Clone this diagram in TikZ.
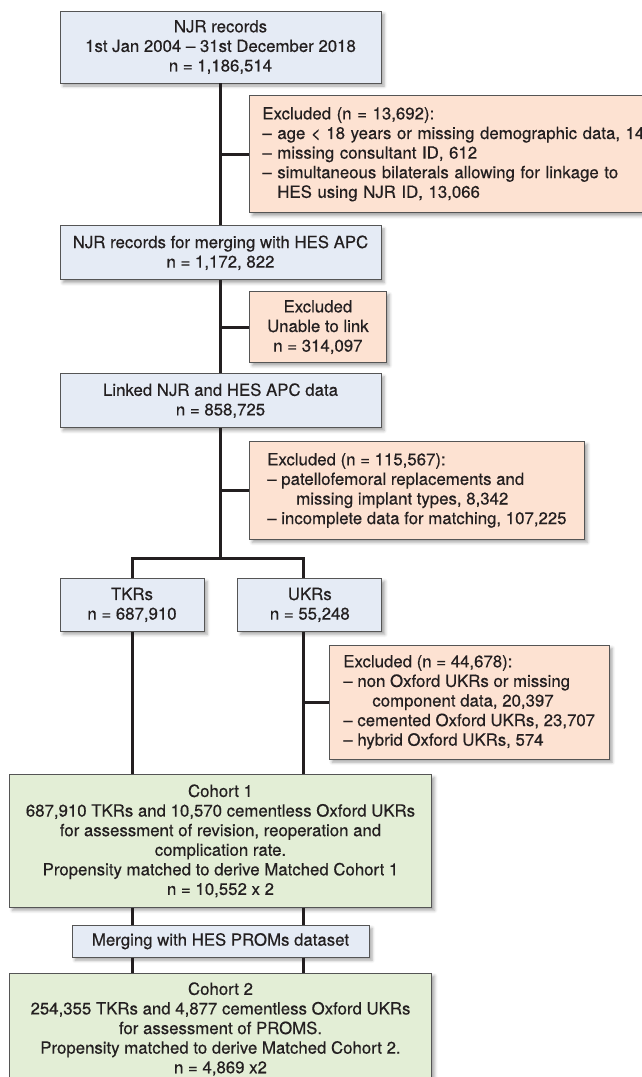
\documentclass[tikz,border=0pt]{standalone}
\usepackage{fontspec}
\setmainfont{TeX Gyre Heros}[FakeBold=0.45]
\usepackage{tikz}
\usetikzlibrary{positioning,shadows.blur}
\definecolor{boxblue}{HTML}{E5EBF5}
\definecolor{boxorange}{HTML}{FDE2D2}
\definecolor{boxgreen}{HTML}{E3EED6}
\definecolor{edgegray}{HTML}{555555}
\definecolor{linkgray}{HTML}{231F20}
\definecolor{textgray}{HTML}{231F20}

\begin{document}
\begin{tikzpicture}[x=1pt, y=1pt,
        flowbox/.style={draw=edgegray, line width=0.8pt, inner sep=0pt, align=center, text=textgray,
            font=\fontsize{16.8}{19.6}\selectfont,
            blur shadow={shadow xshift=3pt, shadow yshift=-3pt, shadow blur radius=3pt, shadow opacity=35}},
        record/.style={flowbox, fill=boxblue},
        excluded/.style={flowbox, fill=boxorange},
        excludedlist/.style={excluded, align=left},
        cohort/.style={flowbox, fill=boxgreen},
        link/.style={draw=linkgray, line width=3pt}
    ]
        \useasboundingbox (0,0) rectangle (641,-1077);

        % Nodes
        \node[record, minimum width=321pt, minimum height=72pt] (njr) at (220.5,-47)
            {NJR records\\1st Jan 2004 – 31st December 2018\\n = 1,186,514};
        \node[excludedlist, inner xsep=13pt, text width=400pt, minimum height=117pt,
            below right=12pt and 28.5pt of njr.south] (exclone)
            {Excluded (n = 13,692):\\– age < 18 years or missing demographic data, 14\\– missing consultant ID, 612\\– simultaneous bilaterals allowing for linkage to\\\phantom{– }HES using NJR ID, 13,066};
        \node[record, minimum width=321pt, minimum height=54pt, below=142pt of njr] (formerge)
            {NJR records for merging with HES APC\\n = 1,172, 822};
        \node[excluded, minimum width=137pt, minimum height=71pt,
            below right=11pt and 28.5pt of formerge.south] (excltwo)
            {Excluded\\Unable to link\\n = 314,097};
        \node[record, minimum width=321pt, minimum height=54pt, below=93pt of formerge] (linked)
            {Linked NJR and HES APC data\\n = 858,725};
        \node[excludedlist, minimum width=335pt, minimum height=98pt,
            below right=13pt and 28.5pt of linked.south] (exclthree)
            {Excluded (n = 115,567):\\– patellofemoral replacements and\\\phantom{– }\hspace{15pt}missing implant types, 8,342\\– incomplete data for matching, 107,225};
        \node[record, minimum width=144pt, minimum height=53pt,
            below right=150pt and 0pt of linked.south west] (tkr)
            {TKRs\\n = 687,910};
        \node[record, minimum width=144pt, minimum height=53pt, right=33pt of tkr] (ukr)
            {UKRs\\n = 55,248};
        \node[excludedlist, minimum width=280pt, minimum height=114pt,
            below right=13pt and 19pt of ukr.south] (exclfour)
            {Excluded (n = 44,678):\\– non Oxford UKRs or missing\\\phantom{– }\hspace{15pt}component data, 20,397\\– cemented Oxford UKRs, 23,707\\– hybrid Oxford UKRs, 574};
        \node[cohort, minimum width=422pt, minimum height=133pt, below=346pt of linked] (cohortone)
            {Cohort 1\\687,910 TKRs and 10,570 cementless Oxford UKRs\\for assessment of revision, reoperation and\\complication rate.\\Propensity matched to derive Matched Cohort 1\\n = 10,552 x 2};
        \node[record, minimum width=297pt, minimum height=32pt, below=17pt of cohortone] (proms)
            {Merging with HES PROMs dataset};
        \node[cohort, minimum width=422pt, minimum height=112pt, below=15pt of proms] (cohorttwo)
            {Cohort 2\\254,355 TKRs and 4,877 cementless Oxford UKRs\\for assessment of PROMS.\\Propensity matched to derive Matched Cohort 2.\\n = 4,869 x2};

        \coordinate[below=130pt of linked.south] (split);
        \coordinate (ukrtop) at ([xshift=-6pt]ukr.north);
        \coordinate (ukrfoot) at ([xshift=-6pt]ukr.south);

        % Edges
        \draw[link] (njr.south) -- (formerge.north);
        \draw[link] (formerge.south) -- (linked.north);
        \draw[link] (linked.south) -- (split);
        \draw[link] (exclone.west) -- (exclone.west -| njr.south);
        \draw[link] (excltwo.west) -- (excltwo.west -| formerge.south);
        \draw[link] (exclthree.west) -- (exclthree.west -| linked.south);
        \draw[link] (tkr.north) |- (split) -| (ukrtop);
        \draw[link] (tkr.south) -- (tkr.south |- cohortone.north);
        \draw[link] (ukrfoot) -- (ukrfoot |- cohortone.north);
        \draw[link] (exclfour.west) -- (exclfour.west -| ukrfoot);
        \draw[link] (tkr.south |- cohortone.south) -- (tkr.south |- proms.north);
        \draw[link] (ukrfoot |- cohortone.south) -- (ukrfoot |- proms.north);
        \draw[link] (tkr.south |- proms.south) -- (tkr.south |- cohorttwo.north);
        \draw[link] (ukrfoot |- proms.south) -- (ukrfoot |- cohorttwo.north);
    \end{tikzpicture}
\end{document}
